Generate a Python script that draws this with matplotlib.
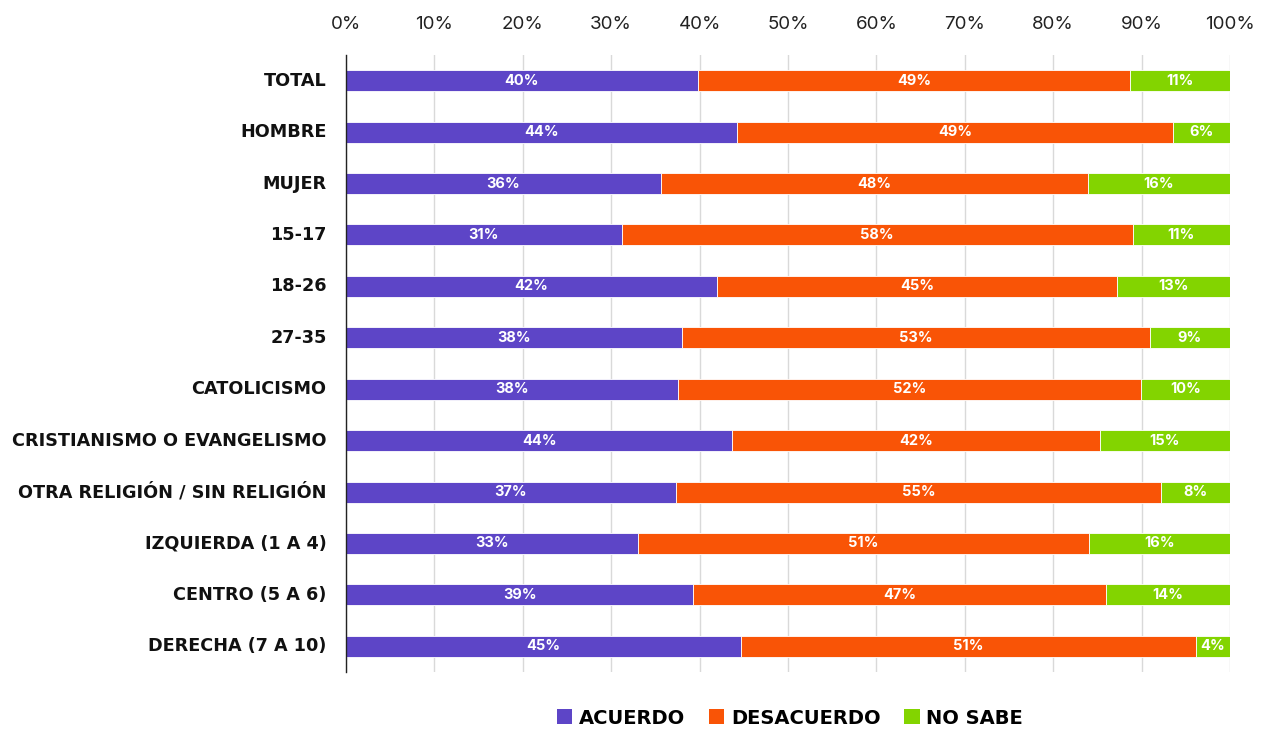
import matplotlib
matplotlib.use("Agg")
import matplotlib.pyplot as plt
from matplotlib.patches import Patch

categories = ["TOTAL", "HOMBRE", "MUJER", "15-17", "18-26", "27-35", "CATOLICISMO",
              "CRISTIANISMO O EVANGELISMO", "OTRA RELIGIÓN / SIN RELIGIÓN",
              "IZQUIERDA (1 A 4)", "CENTRO (5 A 6)", "DERECHA (7 A 10)"]
acuerdo = [39.8, 44.2, 35.6, 31.2, 42.0, 38.0, 37.6, 43.7, 37.3, 33.0, 39.3, 44.7]
desacuerdo = [48.9, 49.4, 48.3, 57.8, 45.2, 52.9, 52.3, 41.6, 54.9, 51.0, 46.7, 51.4]
no_sabe = [11.3, 6.4, 16.1, 11.0, 12.8, 9.1, 10.1, 14.7, 7.8, 16.0, 14.0, 3.9]
series_names = ["ACUERDO", "DESACUERDO", "NO SABE"]
colors = ["#5D45C7", "#F95406", "#83D400"]
ticks = list(range(0, 101, 10))

fig = plt.figure(figsize=(12.68, 7.29), dpi=100)
ax = fig.add_axes([346/1268, 1 - 672/729, (1230 - 346)/1268, (672 - 55)/729])

y = list(range(len(categories)))
left = [0.0] * len(categories)
for name, vals, c in zip(series_names, [acuerdo, desacuerdo, no_sabe], colors):
    ax.barh(y, vals, left=left, height=0.41, color=c, edgecolor="white",
            linewidth=0.6, label=name, zorder=3)
    for yi, l, v in zip(y, left, vals):
        ax.text(l + v / 2, yi, f"{v:.0f}%", ha="center", va="center", color="white",
                fontsize=10.5, fontweight="bold", family="Inter", zorder=4)
    left = [a + b for a, b in zip(left, vals)]

ax.set_xlim(0, 100)
ax.set_ylim(len(categories) - 0.5, -0.5)
ax.set_xticks(ticks)
ax.set_xticklabels([f"{t}%" for t in ticks], fontsize=13.5, family="Inter", color="#222222")
ax.xaxis.tick_top()
ax.tick_params(axis="x", length=0, pad=16)
ax.set_yticks(y)
ax.set_yticklabels(categories, fontsize=12.7, fontweight="bold", family="DejaVu Sans", color="#111111")
ax.tick_params(axis="y", length=0, pad=14)
for lbl in ax.get_yticklabels():
    lbl.set_va("center")
ax.grid(axis="x", color="#d9d9d9", linewidth=1, zorder=0)
for s in ["top", "right", "bottom"]:
    ax.spines[s].set_visible(False)
ax.spines["left"].set_color("#222222")
ax.spines["left"].set_linewidth(1)
ax.spines["left"].set_zorder(5)

handles = [Patch(facecolor=c, label=n) for n, c in zip(series_names, colors)]
fig.legend(handles=handles, loc="center", bbox_to_anchor=(790/1268, 1 - 718/729),
           ncol=3, frameon=False, handlelength=0.8, handleheight=0.8,
           handletextpad=0.35, columnspacing=1.2,
           prop={"family": "DejaVu Sans", "weight": "bold", "size": 14})

fig.savefig("out.png", dpi=100)
